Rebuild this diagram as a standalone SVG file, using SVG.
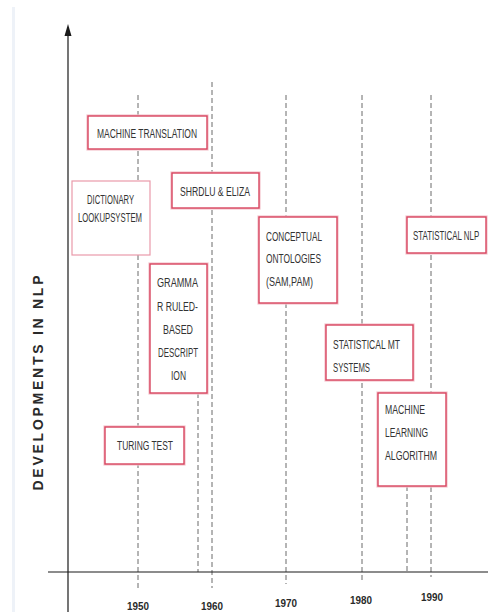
<svg xmlns="http://www.w3.org/2000/svg" width="488" height="612" viewBox="0 0 488 612">
  <style>
    .bg { fill: #ffffff; }
    .axis { stroke: #1a1a1a; stroke-width: 1.2; fill: none; }
    .guide { stroke: #6b6b6b; stroke-width: 1; stroke-dasharray: 5 3; fill: none; }
    .box { fill: #ffffff; stroke: #d8455f; stroke-width: 1.4; }
    .halo { fill: none; stroke: #f3c3cc; stroke-width: 3.2; }
    .box-soft { fill: #ffffff; stroke: #e99aaa; stroke-width: 1.2; }
    .lbl { font-family: "Liberation Sans", Arial, sans-serif; font-size: 12px; fill: #333333; dominant-baseline: central; }
    .year { font-family: "Liberation Sans", Arial, sans-serif; font-size: 11.5px; font-weight: bold; fill: #2a2a2a; text-anchor: middle; dominant-baseline: central; }
    .title { font-family: "Liberation Sans", Arial, sans-serif; font-size: 14px; font-weight: bold; fill: #2a2a2a; text-anchor: middle; dominant-baseline: central; }
  </style>

  <rect class="bg" x="0" y="0" width="488" height="612"/>
  <rect x="12" y="7" width="3" height="605" fill="#eef2f8"/>

  <!-- timeline guides and axes -->
  <g id="connectors">
    <line class="guide" x1="138" y1="95" x2="138" y2="588"/>
    <line class="guide" x1="212" y1="82" x2="212" y2="588"/>
    <line class="guide" x1="198" y1="393" x2="198" y2="572"/>
    <line class="guide" x1="286" y1="95" x2="286" y2="584"/>
    <line class="guide" x1="362" y1="95" x2="362" y2="583"/>
    <line class="guide" x1="431" y1="95" x2="431" y2="577"/>
    <line class="guide" x1="407" y1="486" x2="407" y2="572"/>
    <line class="axis" x1="68" y1="612" x2="68" y2="34"/>
    <polygon points="68,24 64.5,36 71.5,36" fill="#1a1a1a"/>
    <line class="axis" x1="48" y1="572" x2="488" y2="572"/>
  </g>

  <text class="title" transform="translate(38,383) rotate(-90)" textLength="215" lengthAdjust="spacing">DEVELOPMENTS IN NLP</text>

  <g id="years">
    <text class="year" x="138" y="606" textLength="22" lengthAdjust="spacingAndGlyphs">1950</text>
    <text class="year" x="212" y="606" textLength="22" lengthAdjust="spacingAndGlyphs">1960</text>
    <text class="year" x="286" y="603" textLength="22" lengthAdjust="spacingAndGlyphs">1970</text>
    <text class="year" x="361" y="600" textLength="22" lengthAdjust="spacingAndGlyphs">1980</text>
    <text class="year" x="432" y="597" textLength="22" lengthAdjust="spacingAndGlyphs">1990</text>
  </g>

  <g id="machine-translation">
    <rect class="halo" x="88" y="116" width="119" height="33"/>
    <rect class="box" x="88" y="116" width="119" height="33"/>
    <text class="lbl" x="97" y="134" textLength="100" lengthAdjust="spacingAndGlyphs">MACHINE TRANSLATION</text>
  </g>

  <g id="dictionary-lookup">
    <rect class="box-soft" x="72" y="181" width="78" height="74"/>
    <text class="lbl" x="87" y="200" textLength="47" lengthAdjust="spacingAndGlyphs">DICTIONARY</text>
    <text class="lbl" x="78" y="218" textLength="64" lengthAdjust="spacingAndGlyphs">LOOKUPSYSTEM</text>
  </g>

  <g id="shrdlu-eliza">
    <rect class="halo" x="172" y="173" width="87" height="35"/>
    <rect class="box" x="172" y="173" width="87" height="35"/>
    <text class="lbl" x="180" y="192" textLength="70" lengthAdjust="spacingAndGlyphs">SHRDLU &amp; ELIZA</text>
  </g>

  <g id="grammar-rules">
    <rect class="halo" x="150" y="264" width="57" height="129"/>
    <rect class="box" x="150" y="264" width="57" height="129"/>
    <text class="lbl" x="157" y="283" textLength="41" lengthAdjust="spacingAndGlyphs">GRAMMA</text>
    <text class="lbl" x="157" y="307" textLength="41" lengthAdjust="spacingAndGlyphs">R RULED-</text>
    <text class="lbl" x="163" y="330" textLength="30" lengthAdjust="spacingAndGlyphs">BASED</text>
    <text class="lbl" x="158" y="353" textLength="40" lengthAdjust="spacingAndGlyphs">DESCRIPT</text>
    <text class="lbl" x="171" y="376" textLength="15" lengthAdjust="spacingAndGlyphs">ION</text>
  </g>

  <g id="conceptual-ontologies">
    <rect class="halo" x="259" y="217" width="78" height="86"/>
    <rect class="box" x="259" y="217" width="78" height="86"/>
    <text class="lbl" x="266" y="237" textLength="56" lengthAdjust="spacingAndGlyphs">CONCEPTUAL</text>
    <text class="lbl" x="266" y="259" textLength="55" lengthAdjust="spacingAndGlyphs">ONTOLOGIES</text>
    <text class="lbl" x="266" y="282" textLength="47" lengthAdjust="spacingAndGlyphs">(SAM,PAM)</text>
  </g>

  <g id="statistical-nlp">
    <rect class="halo" x="407" y="217" width="79" height="36"/>
    <rect class="box" x="407" y="217" width="79" height="36"/>
    <!-- horizontally condensed so the label stays inside the right edge -->
    <text class="lbl" transform="translate(413,236) scale(0.66,1)" x="0" y="0">STATISTICAL NLP</text>
  </g>

  <g id="statistical-mt">
    <rect class="halo" x="326" y="325" width="87" height="55"/>
    <rect class="box" x="326" y="325" width="87" height="55"/>
    <text class="lbl" x="333" y="345" textLength="67" lengthAdjust="spacingAndGlyphs">STATISTICAL MT</text>
    <text class="lbl" x="333" y="368" textLength="37" lengthAdjust="spacingAndGlyphs">SYSTEMS</text>
  </g>

  <g id="machine-learning">
    <rect class="halo" x="378" y="393" width="68" height="93"/>
    <rect class="box" x="378" y="393" width="68" height="93"/>
    <text class="lbl" x="385" y="410" textLength="40" lengthAdjust="spacingAndGlyphs">MACHINE</text>
    <text class="lbl" x="385" y="433" textLength="43" lengthAdjust="spacingAndGlyphs">LEARNING</text>
    <text class="lbl" x="385" y="456" textLength="52" lengthAdjust="spacingAndGlyphs">ALGORITHM</text>
  </g>

  <g id="turing-test">
    <rect class="halo" x="105" y="427" width="79" height="37"/>
    <rect class="box" x="105" y="427" width="79" height="37"/>
    <text class="lbl" x="117" y="446" textLength="56" lengthAdjust="spacingAndGlyphs">TURING TEST</text>
  </g>
</svg>
